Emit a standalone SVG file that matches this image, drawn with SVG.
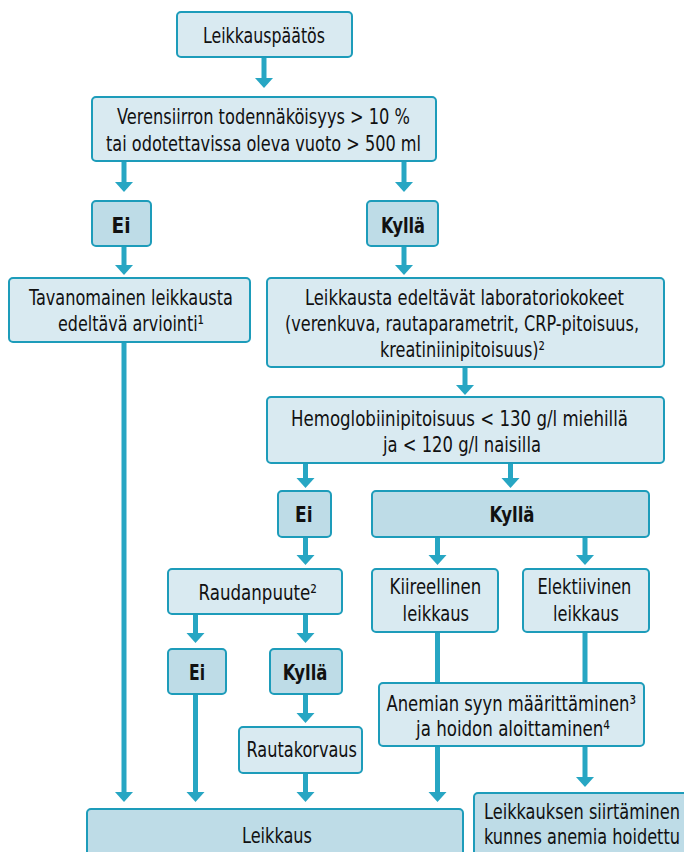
<svg xmlns="http://www.w3.org/2000/svg" xmlns:xlink="http://www.w3.org/1999/xlink" width="684" height="852" viewBox="0 0 684 852">
<style>
.box{fill:#d9eaf1;stroke:#1d9cba;stroke-width:2}
.dark{fill:#bedce7;stroke:#1d9cba;stroke-width:2}
.t{font-family:"Liberation Sans Narrow","DejaVu Sans Condensed","Liberation Sans",sans-serif;font-size:22px;fill:#111}
.b{font-weight:bold}
.ln{stroke:#27a6c3;stroke-width:5;fill:none}
.hd{fill:#27a6c3}
</style>
<defs>
<path id="ah" d="M-9,-10 L9,-10 L0,0 Z"/>
</defs>
<rect width="684" height="852" fill="#ffffff"/>
<g id="connectors">
<line class="ln" x1="264" y1="57" x2="264" y2="79"/><use href="#ah" class="hd" x="264" y="88"/>
<line class="ln" x1="124" y1="161" x2="124" y2="183"/><use href="#ah" class="hd" x="124" y="192"/>
<line class="ln" x1="404" y1="161" x2="404" y2="183"/><use href="#ah" class="hd" x="404" y="192"/>
<line class="ln" x1="124" y1="246" x2="124" y2="266"/><use href="#ah" class="hd" x="124" y="275"/>
<line class="ln" x1="404" y1="246" x2="404" y2="266"/><use href="#ah" class="hd" x="404" y="275"/>
<line class="ln" x1="124" y1="342" x2="124" y2="793"/><use href="#ah" class="hd" x="124" y="802"/>
<line class="ln" x1="465" y1="367" x2="465" y2="386"/><use href="#ah" class="hd" x="465" y="395"/>
<line class="ln" x1="305.5" y1="463" x2="305.5" y2="479"/><use href="#ah" class="hd" x="305.5" y="488"/>
<line class="ln" x1="510.5" y1="463" x2="510.5" y2="479"/><use href="#ah" class="hd" x="510.5" y="488"/>
<line class="ln" x1="305.5" y1="537" x2="305.5" y2="556"/><use href="#ah" class="hd" x="305.5" y="565"/>
<line class="ln" x1="437.5" y1="537" x2="437.5" y2="556"/><use href="#ah" class="hd" x="437.5" y="565"/>
<line class="ln" x1="585" y1="537" x2="585" y2="556"/><use href="#ah" class="hd" x="585" y="565"/>
<line class="ln" x1="195.5" y1="614" x2="195.5" y2="634"/><use href="#ah" class="hd" x="195.5" y="643"/>
<line class="ln" x1="305.5" y1="614" x2="305.5" y2="634"/><use href="#ah" class="hd" x="305.5" y="643"/>
<line class="ln" x1="437.5" y1="632" x2="437.5" y2="683"/>
<line class="ln" x1="585" y1="632" x2="585" y2="683"/>
<line class="ln" x1="305.5" y1="694" x2="305.5" y2="714"/><use href="#ah" class="hd" x="305.5" y="723"/>
<line class="ln" x1="195.5" y1="694" x2="195.5" y2="793"/><use href="#ah" class="hd" x="195.5" y="802"/>
<line class="ln" x1="305.5" y1="773" x2="305.5" y2="793"/><use href="#ah" class="hd" x="305.5" y="802"/>
<line class="ln" x1="437.5" y1="746" x2="437.5" y2="793"/><use href="#ah" class="hd" x="437.5" y="802"/>
<line class="ln" x1="585" y1="746" x2="585" y2="778"/><use href="#ah" class="hd" x="585" y="787"/>
</g>
<g id="n1"><rect class="box" x="177" y="12" width="175" height="45" rx="4"/>
<text class="t" x="203" y="43" textLength="122" lengthAdjust="spacingAndGlyphs">Leikkauspäätös</text></g>
<g id="n2"><rect class="box" x="92" y="97" width="344" height="64" rx="4"/>
<text class="t" x="117" y="124" textLength="293" lengthAdjust="spacingAndGlyphs">Verensiirron todennäköisyys &gt; 10 %</text>
<text class="t" x="106" y="151" textLength="315" lengthAdjust="spacingAndGlyphs">tai odotettavissa oleva vuoto &gt; 500 ml</text></g>
<g id="n3"><rect class="dark" x="92" y="201" width="59" height="45" rx="4"/>
<text class="t b" x="111.5" y="233" textLength="19" lengthAdjust="spacingAndGlyphs">Ei</text></g>
<g id="n4"><rect class="dark" x="367" y="201" width="71" height="45" rx="4"/>
<text class="t b" x="381" y="233" textLength="44" lengthAdjust="spacingAndGlyphs">Kyllä</text></g>
<g id="n5"><rect class="box" x="9" y="278" width="241" height="64" rx="4"/>
<text class="t" x="29" y="305" textLength="204" lengthAdjust="spacingAndGlyphs">Tavanomainen leikkausta</text>
<text class="t" x="58" y="331" textLength="146" lengthAdjust="spacingAndGlyphs">edeltävä arviointi¹</text></g>
<g id="n6"><rect class="box" x="267" y="278" width="397" height="89" rx="4"/>
<text class="t" x="305" y="305" textLength="319" lengthAdjust="spacingAndGlyphs">Leikkausta edeltävät laboratoriokokeet</text>
<text class="t" x="285" y="331" textLength="354" lengthAdjust="spacingAndGlyphs">(verenkuva, rautaparametrit, CRP-pitoisuus,</text>
<text class="t" x="380" y="357" textLength="165" lengthAdjust="spacingAndGlyphs">kreatiniinipitoisuus)²</text></g>
<g id="n7"><rect class="box" x="267" y="397" width="397" height="66" rx="4"/>
<text class="t" x="291" y="426" textLength="337" lengthAdjust="spacingAndGlyphs">Hemoglobiinipitoisuus &lt; 130 g/l miehillä</text>
<text class="t" x="383" y="452" textLength="158" lengthAdjust="spacingAndGlyphs">ja &lt; 120 g/l naisilla</text></g>
<g id="n8"><rect class="dark" x="278" y="491" width="53" height="46" rx="4"/>
<text class="t b" x="295" y="522" textLength="17.5" lengthAdjust="spacingAndGlyphs">Ei</text></g>
<g id="n9"><rect class="dark" x="372" y="491" width="277" height="46" rx="4"/>
<text class="t b" x="489.5" y="522" textLength="45" lengthAdjust="spacingAndGlyphs">Kyllä</text></g>
<g id="n10"><rect class="box" x="168" y="569" width="174" height="45" rx="4"/>
<text class="t" x="198.5" y="600" textLength="118.5" lengthAdjust="spacingAndGlyphs">Raudanpuute²</text></g>
<g id="n11"><rect class="box" x="372" y="569" width="126" height="63" rx="4"/>
<text class="t" x="389.6" y="594" textLength="91.5" lengthAdjust="spacingAndGlyphs">Kiireellinen</text>
<text class="t" x="402.6" y="621" textLength="66.5" lengthAdjust="spacingAndGlyphs">leikkaus</text></g>
<g id="n12"><rect class="box" x="523" y="569" width="126" height="63" rx="4"/>
<text class="t" x="537.4" y="594" textLength="94" lengthAdjust="spacingAndGlyphs">Elektiivinen</text>
<text class="t" x="553" y="621" textLength="66" lengthAdjust="spacingAndGlyphs">leikkaus</text></g>
<g id="n13"><rect class="dark" x="168" y="649" width="58" height="45" rx="4"/>
<text class="t b" x="189" y="680" textLength="16" lengthAdjust="spacingAndGlyphs">Ei</text></g>
<g id="n14"><rect class="dark" x="270" y="649" width="72" height="45" rx="4"/>
<text class="t b" x="282.7" y="680" textLength="44.7" lengthAdjust="spacingAndGlyphs">Kyllä</text></g>
<g id="n15"><rect class="box" x="379" y="683" width="265" height="63" rx="4"/>
<text class="t" x="386.5" y="711" textLength="249.5" lengthAdjust="spacingAndGlyphs">Anemian syyn määrittäminen³</text>
<text class="t" x="416" y="736" textLength="194" lengthAdjust="spacingAndGlyphs">ja hoidon aloittaminen⁴</text></g>
<g id="n16"><rect class="box" x="239" y="727" width="123" height="46" rx="4"/>
<text class="t" x="246.5" y="757" textLength="110.5" lengthAdjust="spacingAndGlyphs">Rautakorvaus</text></g>
<g id="n17"><rect class="dark" x="87" y="809" width="376" height="60" rx="4"/>
<text class="t" x="242" y="843" textLength="70" lengthAdjust="spacingAndGlyphs">Leikkaus</text></g>
<g id="n18"><rect class="dark" x="474" y="793" width="225" height="75" rx="4"/>
<text class="t" x="484" y="819" textLength="196" lengthAdjust="spacingAndGlyphs">Leikkauksen siirtäminen</text>
<text class="t" x="484" y="844" textLength="196" lengthAdjust="spacingAndGlyphs">kunnes anemia hoidettu</text></g>
</svg>
